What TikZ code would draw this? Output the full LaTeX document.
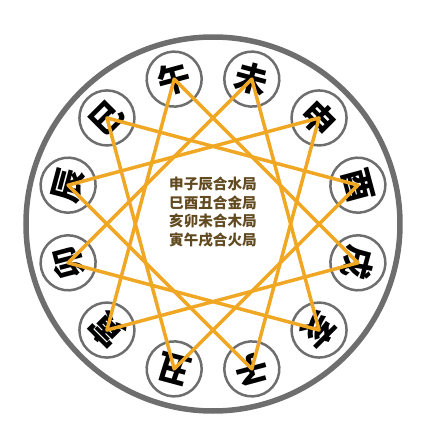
\documentclass[tikz,border=0pt]{standalone}
\usepackage{fontspec}
\newfontfamily\cjk{Noto Sans CJK SC}[BoldFont={Noto Sans CJK SC Black}]
\definecolor{ringgray}{RGB}{110,110,110}
\definecolor{trineorange}{RGB}{240,168,36}
\definecolor{textbrown}{RGB}{98,74,32}

\begin{document}
\begin{tikzpicture}[x=1pt,y=1pt,
  branch/.style={circle, draw=ringgray, line width=2.5pt, minimum size=55pt, inner sep=0pt,
    font=\cjk\bfseries\fontsize{33}{33}\selectfont},
  trine/.style={trineorange, line width=3.5pt, line join=round}]
\useasboundingbox (-213,-205) rectangle (214,224);
\draw[ringgray, line width=5.5pt] (0,0) circle (187);

\node[branch, rotate=15] (wu) at (105:150) {午};
\node[branch, rotate=-15] (wei) at (75:150) {未};
\node[branch, rotate=-45] (shen) at (45:150) {申};
\node[branch, rotate=-75] (you) at (15:150) {酉};
\node[branch, rotate=-105] (xu) at (-15:150) {戌};
\node[branch, rotate=-135] (hai) at (-45:150) {亥};
\node[branch, rotate=-165] (zi) at (-75:150) {子};
\node[branch, rotate=165] (chou) at (-105:150) {丑};
\node[branch, rotate=135] (yin) at (-135:150) {寅};
\node[branch, rotate=105] (mao) at (-165:150) {卯};
\node[branch, rotate=75] (chen) at (165:150) {辰};
\node[branch, rotate=45] (si) at (135:150) {巳};

\draw[trine] (shen.center) -- (zi.center) -- (chen.center) -- cycle;
\draw[trine] (si.center) -- (you.center) -- (chou.center) -- cycle;
\draw[trine] (hai.center) -- (mao.center) -- (wei.center) -- cycle;
\draw[trine] (yin.center) -- (wu.center) -- (xu.center) -- cycle;

\node[align=center, text=textbrown, font=\cjk\fontsize{14.6}{18.7}\selectfont\bfseries] (rules) at (0,12)
  {申子辰合水局\\巳酉丑合金局\\亥卯未合木局\\寅午戌合火局};
\end{tikzpicture}
\end{document}
